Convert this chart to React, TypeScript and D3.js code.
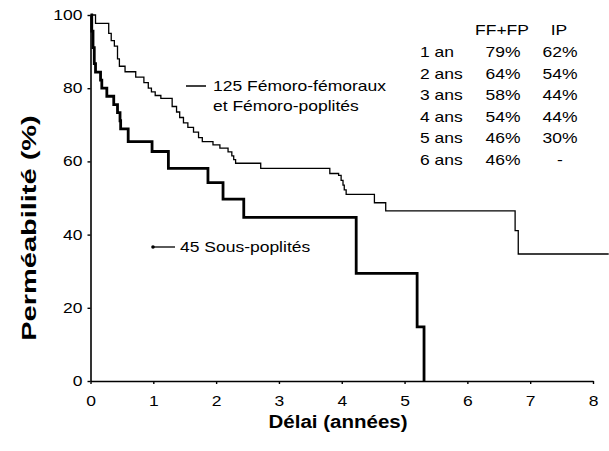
import React, { useEffect, useRef } from 'react'
import * as d3 from 'd3'

// Kaplan-Meier steps, femoro-femoral + femoro-popliteal (125 grafts)
const ffTimes = [0, 0.08, 0.29, 0.33, 0.38, 0.43, 0.46, 0.55, 0.72, 0.85, 0.92, 0.97, 1.03, 1.12, 1.30, 1.37, 1.42, 1.48, 1.55, 1.64, 1.72, 1.78, 1.95, 2.06, 2.19, 2.25, 2.28, 2.31, 2.71, 3.81, 3.95, 3.99, 4.02, 4.04, 4.07, 4.52, 4.70, 6.76, 6.81]
const ffSurvival = [100, 97.7, 95, 93, 91.5, 88, 86, 84.5, 83, 81.5, 80, 79, 78, 77.2, 75, 73.5, 72, 70.5, 69.3, 68, 66.5, 65.4, 64.5, 63.6, 62.6, 61.5, 60.5, 59.5, 58.1, 56.7, 56.2, 54.8, 53.5, 52.2, 51.0, 48.7, 46.5, 41.1, 34.7]
const ffFollowUpEnd = 8.25

// sub-popliteal (45 grafts)
const ipTimes = [0, 0.02, 0.04, 0.06, 0.08, 0.16, 0.18, 0.26, 0.37, 0.43, 0.47, 0.48, 0.60, 0.98, 1.24, 1.87, 2.11, 2.44, 4.23, 5.20, 5.31]
const ipSurvival = [100, 95.6, 91.1, 86.7, 84.4, 82.2, 80.0, 77.8, 75.5, 73.3, 71.1, 68.9, 65.4, 62.7, 58.1, 54.2, 49.7, 44.7, 29.4, 14.8, 0]

const xTicks = [0, 1, 2, 3, 4, 5, 6, 7, 8]
const yTicks = [0, 20, 40, 60, 80, 100]

const tableYears = ['1 an', '2 ans', '3 ans', '4 ans', '5 ans', '6 ans']
const tableFF = ['79%', '64%', '58%', '54%', '46%', '46%']
const tableIP = ['62%', '54%', '44%', '44%', '30%', '-']

const W = 609
const H = 451
const FONT = '"Liberation Sans", Arial, sans-serif'
const SX = 1.25

const x = d3.scaleLinear().domain([0, 8]).range([90.5, 593])
const y = d3.scaleLinear().domain([0, 100]).range([381, 15])

function label (g, str, px, py, opts = {}) {
  const { size = 14, weight = 'normal', anchor = 'start', sx = SX, rotate = 0 } = opts
  g.append('text')
    .attr('transform', `translate(${px},${py}) rotate(${rotate}) scale(${sx},1)`)
    .attr('font-family', FONT)
    .attr('font-size', size)
    .attr('font-weight', weight)
    .attr('text-anchor', anchor)
    .attr('fill', '#000')
    .text(str)
}

function styleAxis (g) {
  g.selectAll('text')
    .attr('transform', `scale(${SX},1)`)
    .attr('fill', '#000')
    .attr('font-family', FONT)
    .attr('font-size', 14)
    .style('font-size', '14px')
  g.select('.domain').attr('stroke-width', 1.6)
  g.selectAll('.tick line').attr('stroke-width', 1.4)
}

export default function App () {
  const ref = useRef(null)

  useEffect(() => {
    const svg = d3.select(ref.current)
    svg.selectAll('*').remove()

    svg.append('rect').attr('width', W).attr('height', H).attr('fill', '#fff')

    // axes
    const gy = svg.append('g')
      .attr('transform', `translate(${x(0)},0)`)
      .call(d3.axisLeft(y).tickValues(yTicks).tickSize(3).tickPadding(3.4).tickSizeOuter(0))
    styleAxis(gy)

    const gx = svg.append('g')
      .attr('transform', `translate(0,${y(0)})`)
      .call(d3.axisBottom(x).tickValues(xTicks).tickSize(3).tickPadding(12).tickSizeOuter(0))
    styleAxis(gx)

    // survival curves
    const step = d3.line()
      .x(d => x(d[0]))
      .y(d => y(d[1]))
      .curve(d3.curveStepAfter)

    const ffData = ffTimes.map((t, i) => [t, ffSurvival[i]])
    ffData.push([ffFollowUpEnd, ffSurvival[ffSurvival.length - 1]])
    const ipData = ipTimes.map((t, i) => [t, ipSurvival[i]])

    svg.append('path').attr('d', step(ffData))
      .attr('fill', 'none').attr('stroke', '#000').attr('stroke-width', 1.3)
    svg.append('path').attr('d', step(ipData))
      .attr('fill', 'none').attr('stroke', '#000').attr('stroke-width', 2.8)

    // curve labels
    const g = svg.append('g')
    g.append('line').attr('x1', 186).attr('x2', 206).attr('y1', 86).attr('y2', 86)
      .attr('stroke', '#000').attr('stroke-width', 1.5)
    label(g, '125 Fémoro-fémoraux', 213, 91)
    label(g, 'et Fémoro-poplités', 213, 111)

    g.append('line').attr('x1', 153).attr('x2', 175).attr('y1', 247).attr('y2', 247)
      .attr('stroke', '#000').attr('stroke-width', 1.3)
    g.append('circle').attr('cx', 153).attr('cy', 247).attr('r', 1.8).attr('fill', '#000')
    label(g, '45 Sous-poplités', 180, 252)

    // patency table
    label(g, 'FF+FP', 502, 35, { anchor: 'middle' })
    label(g, 'IP', 559, 35, { anchor: 'middle' })
    tableYears.forEach((yr, i) => {
      const by = 57 + i * 21.5
      label(g, yr, 420, by)
      label(g, tableFF[i], 503, by, { anchor: 'middle' })
      label(g, tableIP[i], 560, by, { anchor: 'middle' })
    })

    // axis titles
    label(g, 'Délai (années)', 338, 428, { size: 19, weight: 'bold', anchor: 'middle', sx: 1.08 })
    label(g, 'Perméabilité (%)', 36, 228, { size: 20, weight: 'bold', anchor: 'middle', sx: 1.45, rotate: -90 })
  }, [])

  return (
    <svg
      ref={ref}
      width={W}
      height={H}
      viewBox={`0 0 ${W} ${H}`}
      style={{ position: 'absolute', left: 0, top: 0, display: 'block' }}
    />
  )
}
